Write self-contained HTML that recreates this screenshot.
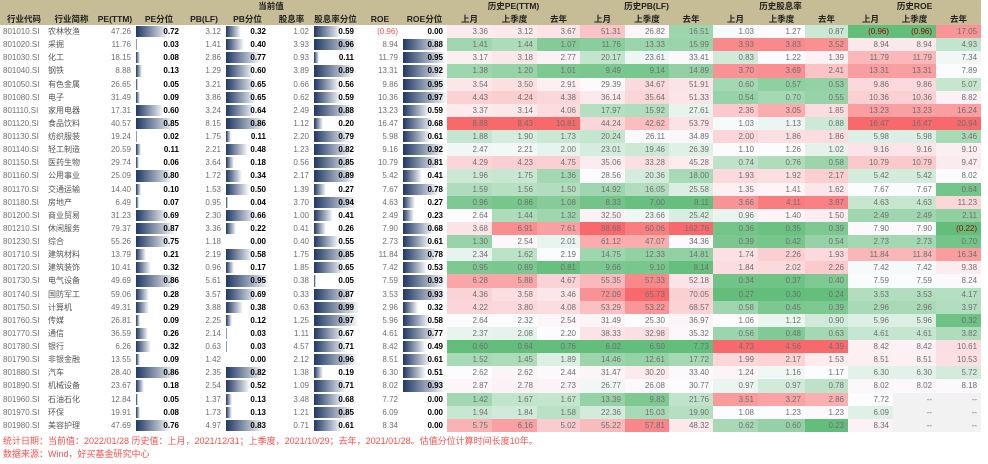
<!DOCTYPE html>
<html><head><meta charset="utf-8">
<style>
html,body{margin:0;padding:0;background:#fff;width:988px;height:464px;overflow:hidden}
body{font-family:"Liberation Sans","Noto Sans CJK SC",sans-serif;font-size:8px;color:#707070}
table{border-collapse:collapse;table-layout:fixed;width:981px;position:absolute;left:0;top:0}
td,th{padding:0 4px 0 0;height:13.13px;line-height:13px;white-space:nowrap;overflow:hidden;text-align:right}
thead th{background:#c6bc96;color:#222;font-weight:bold;text-align:center;padding:0;height:12.5px;line-height:12.5px;font-size:8.5px}
td.l{text-align:left;padding-left:3px}
td.n{text-align:left;padding-left:0;color:#555}
td.b{position:relative;color:#000;font-weight:bold}
td.b i{position:absolute;left:1px;top:1px;bottom:1px;background:linear-gradient(to right,#1f3864,#fff)}
td.b span{position:relative}
td.neg{color:#ff5050}
td.d{background:#f2f2f2;text-align:right}
.f{position:absolute;left:3px;font-size:9px;color:#ff4d4d}
</style></head><body>
<table id="t">
<colgroup>
<col style="width:48px"><col style="width:47px"><col style="width:40px"><col style="width:48px"><col style="width:42px"><col style="width:45px"><col style="width:43px"><col style="width:45px"><col style="width:44px"><col style="width:45px">
<col style="width:45px"><col style="width:45px"><col style="width:43px"><col style="width:45px"><col style="width:44px"><col style="width:44px"><col style="width:45px"><col style="width:47px"><col style="width:43px"><col style="width:45px"><col style="width:43px"><col style="width:45px">
</colgroup>
<thead>
<tr><th colspan="2"></th><th colspan="8">当前值</th><th colspan="3">历史PE(TTM)</th><th colspan="3">历史PB(LF)</th><th colspan="3">历史股息率</th><th colspan="3">历史ROE</th></tr>
<tr><th>行业代码</th><th>行业简称</th><th>PE(TTM)</th><th>PE分位</th><th>PB(LF)</th><th>PB分位</th><th>股息率</th><th>股息率分位</th><th>ROE</th><th>ROE分位</th><th>上月</th><th>上季度</th><th>去年</th><th>上月</th><th>上季度</th><th>去年</th><th>上月</th><th>上季度</th><th>去年</th><th>上月</th><th>上季度</th><th>去年</th></tr>
</thead>
<tbody>
<tr><td class=l>801010.SI</td><td class=n>农林牧渔</td><td>47.26</td><td class=b>0.72</td><td>3.12</td><td class=b>0.32</td><td>1.02</td><td class=b>0.59</td><td class=neg>(0.96)</td><td class=b>0.00</td><td>3.36</td><td>3.12</td><td>3.67</td><td>51.31</td><td>26.82</td><td>16.51</td><td>1.03</td><td>1.27</td><td>0.87</td><td>(0.96)</td><td>(0.96)</td><td>17.05</td></tr>
<tr><td class=l>801020.SI</td><td class=n>采掘</td><td>11.76</td><td class=b>0.03</td><td>1.41</td><td class=b>0.40</td><td>3.93</td><td class=b>0.96</td><td>8.94</td><td class=b>0.88</td><td>1.41</td><td>1.44</td><td>1.07</td><td>11.76</td><td>13.33</td><td>15.99</td><td>3.93</td><td>3.83</td><td>3.52</td><td>8.94</td><td>8.94</td><td>4.93</td></tr>
<tr><td class=l>801030.SI</td><td class=n>化工</td><td>18.15</td><td class=b>0.08</td><td>2.86</td><td class=b>0.77</td><td>0.93</td><td class=b>0.11</td><td>11.79</td><td class=b>0.95</td><td>3.17</td><td>3.18</td><td>2.77</td><td>20.17</td><td>23.61</td><td>33.41</td><td>0.83</td><td>1.22</td><td>1.39</td><td>11.79</td><td>11.79</td><td>7.34</td></tr>
<tr><td class=l>801040.SI</td><td class=n>钢铁</td><td>8.88</td><td class=b>0.13</td><td>1.29</td><td class=b>0.60</td><td>3.89</td><td class=b>0.89</td><td>13.31</td><td class=b>0.92</td><td>1.38</td><td>1.20</td><td>1.01</td><td>9.49</td><td>9.14</td><td>14.89</td><td>3.70</td><td>3.69</td><td>2.41</td><td>13.31</td><td>13.31</td><td>7.89</td></tr>
<tr><td class=l>801050.SI</td><td class=n>有色金属</td><td>26.65</td><td class=b>0.05</td><td>3.21</td><td class=b>0.65</td><td>0.66</td><td class=b>0.56</td><td>9.86</td><td class=b>0.95</td><td>3.54</td><td>3.50</td><td>2.91</td><td>29.39</td><td>34.67</td><td>51.91</td><td>0.60</td><td>0.57</td><td>0.53</td><td>9.86</td><td>9.86</td><td>5.07</td></tr>
<tr><td class=l>801080.SI</td><td class=n>电子</td><td>31.49</td><td class=b>0.09</td><td>3.86</td><td class=b>0.65</td><td>0.62</td><td class=b>0.59</td><td>10.36</td><td class=b>0.97</td><td>4.43</td><td>4.24</td><td>4.38</td><td>36.14</td><td>35.64</td><td>51.33</td><td>0.54</td><td>0.70</td><td>0.55</td><td>10.36</td><td>10.36</td><td>8.82</td></tr>
<tr><td class=l>801110.SI</td><td class=n>家用电器</td><td>17.31</td><td class=b>0.60</td><td>3.24</td><td class=b>0.64</td><td>2.49</td><td class=b>0.88</td><td>13.23</td><td class=b>0.59</td><td>3.37</td><td>3.14</td><td>4.06</td><td>17.97</td><td>15.92</td><td>27.61</td><td>2.36</td><td>3.05</td><td>1.85</td><td>13.23</td><td>13.23</td><td>16.24</td></tr>
<tr><td class=l>801120.SI</td><td class=n>食品饮料</td><td>40.57</td><td class=b>0.85</td><td>8.15</td><td class=b>0.86</td><td>1.12</td><td class=b>0.20</td><td>16.47</td><td class=b>0.68</td><td>8.88</td><td>8.43</td><td>10.81</td><td>44.24</td><td>42.62</td><td>53.79</td><td>1.03</td><td>1.13</td><td>0.88</td><td>16.47</td><td>16.47</td><td>20.94</td></tr>
<tr><td class=l>801130.SI</td><td class=n>纺织服装</td><td>19.24</td><td class=b>0.02</td><td>1.75</td><td class=b>0.11</td><td>2.20</td><td class=b>0.79</td><td>5.98</td><td class=b>0.61</td><td>1.88</td><td>1.90</td><td>1.73</td><td>20.24</td><td>26.11</td><td>34.89</td><td>2.00</td><td>1.86</td><td>1.86</td><td>5.98</td><td>5.98</td><td>3.46</td></tr>
<tr><td class=l>801140.SI</td><td class=n>轻工制造</td><td>20.59</td><td class=b>0.11</td><td>2.21</td><td class=b>0.48</td><td>1.23</td><td class=b>0.82</td><td>9.16</td><td class=b>0.92</td><td>2.47</td><td>2.21</td><td>2.00</td><td>23.01</td><td>19.46</td><td>26.39</td><td>1.10</td><td>1.26</td><td>1.02</td><td>9.16</td><td>9.16</td><td>9.10</td></tr>
<tr><td class=l>801150.SI</td><td class=n>医药生物</td><td>29.74</td><td class=b>0.06</td><td>3.64</td><td class=b>0.18</td><td>0.56</td><td class=b>0.85</td><td>10.79</td><td class=b>0.81</td><td>4.29</td><td>4.23</td><td>4.75</td><td>35.06</td><td>33.28</td><td>45.28</td><td>0.74</td><td>0.76</td><td>0.58</td><td>10.79</td><td>10.79</td><td>9.47</td></tr>
<tr><td class=l>801160.SI</td><td class=n>公用事业</td><td>25.09</td><td class=b>0.80</td><td>1.72</td><td class=b>0.34</td><td>2.17</td><td class=b>0.89</td><td>5.42</td><td class=b>0.41</td><td>1.96</td><td>1.75</td><td>1.36</td><td>28.56</td><td>20.36</td><td>18.00</td><td>1.93</td><td>1.92</td><td>2.17</td><td>5.42</td><td>5.42</td><td>8.02</td></tr>
<tr><td class=l>801170.SI</td><td class=n>交通运输</td><td>14.40</td><td class=b>0.10</td><td>1.53</td><td class=b>0.50</td><td>1.39</td><td class=b>0.27</td><td>7.67</td><td class=b>0.78</td><td>1.59</td><td>1.56</td><td>1.50</td><td>14.92</td><td>16.05</td><td>25.58</td><td>1.35</td><td>1.41</td><td>1.62</td><td>7.67</td><td>7.67</td><td>0.64</td></tr>
<tr><td class=l>801180.SI</td><td class=n>房地产</td><td>6.49</td><td class=b>0.07</td><td>0.95</td><td class=b>0.04</td><td>3.70</td><td class=b>0.94</td><td>4.63</td><td class=b>0.27</td><td>0.96</td><td>0.86</td><td>1.08</td><td>8.33</td><td>7.00</td><td>8.11</td><td>3.66</td><td>4.11</td><td>3.87</td><td>4.63</td><td>4.63</td><td>11.23</td></tr>
<tr><td class=l>801200.SI</td><td class=n>商业贸易</td><td>31.23</td><td class=b>0.69</td><td>2.30</td><td class=b>0.66</td><td>1.00</td><td class=b>0.41</td><td>2.49</td><td class=b>0.23</td><td>2.64</td><td>1.44</td><td>1.32</td><td>32.50</td><td>23.66</td><td>25.42</td><td>0.96</td><td>1.40</td><td>1.50</td><td>2.49</td><td>2.49</td><td>2.11</td></tr>
<tr><td class=l>801210.SI</td><td class=n>休闲服务</td><td>79.37</td><td class=b>0.87</td><td>3.36</td><td class=b>0.22</td><td>0.41</td><td class=b>0.26</td><td>7.90</td><td class=b>0.68</td><td>3.68</td><td>6.91</td><td>7.61</td><td>88.68</td><td>60.06</td><td>162.76</td><td>0.36</td><td>0.35</td><td>0.39</td><td>7.90</td><td>7.90</td><td>(0.22)</td></tr>
<tr><td class=l>801230.SI</td><td class=n>综合</td><td>55.26</td><td class=b>0.75</td><td>1.18</td><td class=b>0.00</td><td>0.40</td><td class=b>0.55</td><td>2.73</td><td class=b>0.61</td><td>1.30</td><td>2.54</td><td>2.01</td><td>61.12</td><td>47.07</td><td>34.36</td><td>0.39</td><td>0.42</td><td>0.54</td><td>2.73</td><td>2.73</td><td>0.70</td></tr>
<tr><td class=l>801710.SI</td><td class=n>建筑材料</td><td>13.79</td><td class=b>0.21</td><td>2.19</td><td class=b>0.58</td><td>1.75</td><td class=b>0.85</td><td>11.84</td><td class=b>0.78</td><td>2.34</td><td>1.62</td><td>2.19</td><td>14.75</td><td>12.33</td><td>14.81</td><td>1.74</td><td>2.26</td><td>1.93</td><td>11.84</td><td>11.84</td><td>16.34</td></tr>
<tr><td class=l>801720.SI</td><td class=n>建筑装饰</td><td>10.41</td><td class=b>0.32</td><td>0.96</td><td class=b>0.17</td><td>1.85</td><td class=b>0.65</td><td>7.42</td><td class=b>0.53</td><td>0.95</td><td>0.89</td><td>0.81</td><td>9.66</td><td>9.10</td><td>8.14</td><td>1.84</td><td>2.02</td><td>2.26</td><td>7.42</td><td>7.42</td><td>9.38</td></tr>
<tr><td class=l>801730.SI</td><td class=n>电气设备</td><td>49.69</td><td class=b>0.86</td><td>5.61</td><td class=b>0.95</td><td>0.38</td><td class=b>0.05</td><td>7.59</td><td class=b>0.93</td><td>6.28</td><td>5.88</td><td>4.67</td><td>55.35</td><td>57.33</td><td>52.18</td><td>0.34</td><td>0.37</td><td>0.40</td><td>7.59</td><td>7.59</td><td>8.24</td></tr>
<tr><td class=l>801740.SI</td><td class=n>国防军工</td><td>59.06</td><td class=b>0.28</td><td>3.57</td><td class=b>0.69</td><td>0.33</td><td class=b>0.87</td><td>3.53</td><td class=b>0.93</td><td>4.36</td><td>3.58</td><td>3.46</td><td>72.09</td><td>65.73</td><td>70.05</td><td>0.27</td><td>0.30</td><td>0.24</td><td>3.53</td><td>3.53</td><td>4.17</td></tr>
<tr><td class=l>801750.SI</td><td class=n>计算机</td><td>49.31</td><td class=b>0.29</td><td>3.88</td><td class=b>0.38</td><td>0.63</td><td class=b>0.99</td><td>2.96</td><td class=b>0.32</td><td>4.22</td><td>3.80</td><td>4.08</td><td>53.29</td><td>53.22</td><td>68.57</td><td>0.58</td><td>0.45</td><td>0.39</td><td>2.96</td><td>2.96</td><td>3.97</td></tr>
<tr><td class=l>801760.SI</td><td class=n>传媒</td><td>26.81</td><td class=b>0.09</td><td>2.25</td><td class=b>0.12</td><td>1.25</td><td class=b>0.97</td><td>5.96</td><td class=b>0.58</td><td>2.64</td><td>2.32</td><td>2.54</td><td>31.49</td><td>25.30</td><td>36.97</td><td>1.06</td><td>1.12</td><td>0.90</td><td>5.96</td><td>5.96</td><td>0.32</td></tr>
<tr><td class=l>801770.SI</td><td class=n>通信</td><td>36.59</td><td class=b>0.26</td><td>2.14</td><td class=b>0.03</td><td>1.11</td><td class=b>0.67</td><td>4.61</td><td class=b>0.77</td><td>2.37</td><td>2.08</td><td>2.20</td><td>38.33</td><td>32.98</td><td>35.32</td><td>0.56</td><td>0.48</td><td>0.63</td><td>4.61</td><td>4.61</td><td>3.82</td></tr>
<tr><td class=l>801780.SI</td><td class=n>银行</td><td>6.26</td><td class=b>0.32</td><td>0.63</td><td class=b>0.03</td><td>4.57</td><td class=b>0.71</td><td>8.42</td><td class=b>0.49</td><td>0.60</td><td>0.64</td><td>0.76</td><td>6.02</td><td>6.50</td><td>7.73</td><td>4.73</td><td>4.56</td><td>4.39</td><td>8.42</td><td>8.42</td><td>10.61</td></tr>
<tr><td class=l>801790.SI</td><td class=n>非银金融</td><td>13.55</td><td class=b>0.09</td><td>1.42</td><td class=b>0.00</td><td>2.12</td><td class=b>0.96</td><td>8.51</td><td class=b>0.61</td><td>1.52</td><td>1.45</td><td>1.89</td><td>14.46</td><td>12.61</td><td>17.72</td><td>1.99</td><td>2.17</td><td>1.53</td><td>8.51</td><td>8.51</td><td>10.53</td></tr>
<tr><td class=l>801880.SI</td><td class=n>汽车</td><td>28.40</td><td class=b>0.86</td><td>2.35</td><td class=b>0.82</td><td>1.38</td><td class=b>0.19</td><td>6.30</td><td class=b>0.51</td><td>2.62</td><td>2.62</td><td>2.44</td><td>31.47</td><td>30.20</td><td>33.40</td><td>1.24</td><td>1.16</td><td>1.17</td><td>6.30</td><td>6.30</td><td>5.72</td></tr>
<tr><td class=l>801890.SI</td><td class=n>机械设备</td><td>23.67</td><td class=b>0.18</td><td>2.54</td><td class=b>0.52</td><td>1.09</td><td class=b>0.71</td><td>8.02</td><td class=b>0.93</td><td>2.87</td><td>2.78</td><td>2.73</td><td>26.77</td><td>26.08</td><td>30.77</td><td>0.97</td><td>0.97</td><td>0.78</td><td>8.02</td><td>8.02</td><td>8.18</td></tr>
<tr><td class=l>801960.SI</td><td class=n>石油石化</td><td>12.84</td><td class=b>0.05</td><td>1.37</td><td class=b>0.13</td><td>3.48</td><td class=b>0.68</td><td>7.72</td><td class=b>0.00</td><td>1.42</td><td>1.67</td><td>1.67</td><td>13.39</td><td>9.83</td><td>21.76</td><td>3.51</td><td>3.27</td><td>2.86</td><td>7.72</td><td class=d>--</td><td class=d>--</td></tr>
<tr><td class=l>801970.SI</td><td class=n>环保</td><td>19.91</td><td class=b>0.08</td><td>1.73</td><td class=b>0.13</td><td>1.21</td><td class=b>0.85</td><td>6.09</td><td class=b>0.00</td><td>1.94</td><td>1.84</td><td>1.58</td><td>22.36</td><td>15.03</td><td>19.90</td><td>1.08</td><td>1.23</td><td>1.23</td><td>6.09</td><td class=d>--</td><td class=d>--</td></tr>
<tr><td class=l>801980.SI</td><td class=n>美容护理</td><td>47.69</td><td class=b>0.76</td><td>4.97</td><td class=b>0.83</td><td>0.71</td><td class=b>0.61</td><td>8.34</td><td class=b>0.00</td><td>5.75</td><td>6.16</td><td>5.02</td><td>55.22</td><td>57.81</td><td>48.32</td><td>0.62</td><td>0.60</td><td>0.23</td><td>8.34</td><td class=d>--</td><td class=d>--</td></tr>
</tbody></table>
<div class="f" style="top:434px">统计日期：当前值：2022/01/28  历史值：上月，2021/12/31；上季度，2021/10/29；去年，2021/01/28。估值分位计算时间长度10年。</div>
<div class="f" style="top:447px">数据来源：Wind，好买基金研究中心</div>
<script>
var rows=document.querySelectorAll('#t tbody tr');
rows.forEach(function(r){r.querySelectorAll('td.b').forEach(function(td){var v=parseFloat(td.textContent);var t=td.textContent;td.innerHTML='<i style="width:'+(v*46)+'px"></i><span>'+t+'</span>';});});
function num(s){s=s.trim();if(s=='--')return null;if(s[0]=='(')return -parseFloat(s.slice(1));return parseFloat(s);}
function mix(a,b,t){t=Math.max(0,Math.min(1,t));return 'rgb('+a.map(function(x,i){return Math.round(x+(b[i]-x)*t)}).join(',')+')';}
var G=[99,190,123],W=[252,252,255],R=[248,105,107];
for(var c=10;c<22;c++){var cells=[],vals=[];rows.forEach(function(r){var td=r.children[c];var v=num(td.textContent);if(v!==null){cells.push([td,v]);vals.push(v);}});
var s=vals.slice().sort(function(a,b){return a-b});var mn=s[0],mx=s[s.length-1];var p=(s.length-1)/2;var md=(s[Math.floor(p)]+s[Math.ceil(p)])/2;
cells.forEach(function(e){var v=e[1];e[0].style.background=v<=md?mix(G,W,(v-mn)/(md-mn||1)):mix(W,R,(v-md)/(mx-md||1));if(v<0)e[0].style.color='#9c0006';});}
</script>
</body></html>
